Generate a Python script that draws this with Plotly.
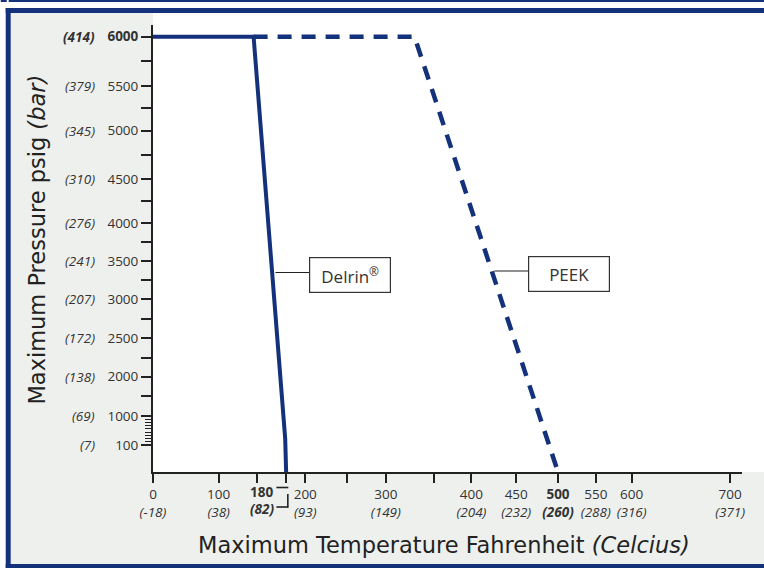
import numpy as np
import plotly.graph_objects as go

# ---------------- data ----------------
DELRIN_F = [0, 145, 179, 180]
DELRIN_PSI = [6000, 6000, 300, 0]
PEEK_F = [145, 330, 500]
PEEK_PSI = [6000, 6000, 0]

X_TICK_F = [0, 100, 200, 300, 400, 450, 500, 550, 600, 700]
X_TICK_F_TEXT = ["0", "100", "200", "300", "400", "450", "<b>500</b>", "550", "600", "700"]
X_TICK_C_TEXT = ["(-18)", "(38)", "(93)", "(149)", "(204)", "(232)", "<b>(260)</b>", "(288)", "(316)", "(371)"]
X_UNLABELED_F = [150, 180, 250, 350]
X_MARK_F_TEXT = "<b>180</b>"
X_MARK_C_TEXT = "<b><i>(82)</i></b>"

Y_TICK_PSI = [100, 1000, 2000, 2500, 3000, 3500, 4000, 4500, 5000, 5500, 6000]
Y_TICK_PSI_TEXT = ["100", "1000", "2000", "2500", "3000", "3500", "4000", "4500", "5000", "5500", "<b>6000</b>"]
Y_TICK_BAR_TEXT = ["(7)", "(69)", "(138)", "(172)", "(207)", "(241)", "(276)", "(310)", "(345)", "(379)", "<b>(414)</b>"]
Y_HALF_PSI = [1500, 2250, 2750, 3250, 3750, 4250, 4750, 5250, 5750]
Y_FINE_PSI = [200, 300, 400, 500, 600, 700, 800, 900]

# ---------------- the chart's (non-linear) scales ----------------
SCALE_X_F = [0, 100, 150, 200, 250, 300, 350, 400, 450, 500, 550, 600, 700]
SCALE_X_POS = [0, 66, 105, 153, 195, 234, 282, 320, 365, 407, 445, 481, 580]
SCALE_Y_PSI = [0, 100, 1000, 2000, 2500, 3000, 3500, 4000, 4500, 5000, 5500, 6000]
SCALE_Y_POS = [0, 27, 56, 95.3, 133.7, 172.7, 211, 248.7, 293, 341.3, 386, 435.3]


def fx(v):
    return np.interp(v, SCALE_X_F, SCALE_X_POS).tolist()


def fy(v):
    return np.interp(v, SCALE_Y_PSI, SCALE_Y_POS).tolist()


NAVY = "#14317b"
TXT = "#333333"
TICKFONT = "Open Sans"
W, H = 764, 568
ML, MT, MB = 153, 13, 96
PW, PH = W - ML, H - MT - MB


def PX(x):
    return (x - ML) / PW


def PY(y):
    return (H - MB - y) / PH


fig = go.Figure()
fig.add_trace(go.Scatter(x=fx(DELRIN_F), y=fy(DELRIN_PSI), mode="lines",
                         line=dict(color=NAVY, width=4), hoverinfo="skip"))
fig.add_trace(go.Scatter(x=fx(PEEK_F), y=fy(PEEK_PSI), mode="lines",
                         line=dict(color=NAVY, width=4.5, dash="14px,10px"), hoverinfo="skip"))
# carrier for the fine-tick overlay axis
fig.add_trace(go.Scatter(x=[None], y=[None], yaxis="y2", mode="lines", hoverinfo="skip"))

xt = [f + "<br><i>" + c + "</i>" for f, c in zip(X_TICK_F_TEXT, X_TICK_C_TEXT)]

fig.update_layout(
    xaxis=dict(range=[0, 592], domain=[0, 592 / PW], tickmode="array",
               tickvals=fx(X_TICK_F), ticktext=xt, ticks="outside", ticklen=9,
               tickwidth=2, tickcolor="#222", showline=True, linewidth=2, linecolor="#222",
               showgrid=False, zeroline=False, fixedrange=True,
               minor=dict(tickmode="array", tickvals=fx(X_UNLABELED_F), ticks="outside",
                          ticklen=9, tickwidth=2, tickcolor="#222", showgrid=False),
               tickfont=dict(family=TICKFONT, size=13.5, color=TXT)),
    yaxis=dict(range=[0, 447], domain=[0, 447 / PH], tickmode="array",
               tickvals=fy(Y_TICK_PSI), ticktext=Y_TICK_PSI_TEXT,
               ticks="outside", ticklen=10, tickwidth=2, tickcolor="#222",
               showline=True, linewidth=2, linecolor="#222", showgrid=False,
               zeroline=False, fixedrange=True,
               minor=dict(tickmode="array", tickvals=fy(Y_HALF_PSI), ticks="outside",
                          ticklen=10, tickwidth=2, tickcolor="#222", showgrid=False),
               tickfont=dict(family=TICKFONT, size=13.5, color=TXT)),
    yaxis2=dict(range=[0, 447], domain=[0, 447 / PH], overlaying="y", anchor="x", side="left",
                tickmode="array", tickvals=fy(Y_FINE_PSI), ticks="outside", ticklen=7,
                tickwidth=1.2, tickcolor="#222", showticklabels=False, showline=False,
                showgrid=False, zeroline=False, fixedrange=True),
)

shapes = []


def rect(x0, y0, x1, y1, color, layer="above"):
    shapes.append(dict(type="rect", xref="paper", yref="paper", x0=PX(x0), x1=PX(x1),
                       y0=PY(y1), y1=PY(y0), fillcolor=color, line=dict(width=0), layer=layer))


def seg(x0, y0, x1, y1, width=1.3, color="#222"):
    shapes.append(dict(type="line", xref="paper", yref="paper", x0=PX(x0), x1=PX(x1),
                       y0=PY(y0), y1=PY(y1), line=dict(color=color, width=width)))


# backgrounds
rect(10, 13, 780, 564, "#eef0ee", layer="below")
rect(153, 13, 780, 472, "#ffffff", layer="below")
# frame
rect(0, 0, 6, 2, NAVY)
rect(8, 0, 780, 2, NAVY)
rect(5, 8, 780, 13, NAVY)
rect(5, 8, 10, 568, NAVY)
rect(5, 564, 780, 568, NAVY)
# 180 bracket
seg(277, 487.5, 289, 487.5, 1.6)
seg(288.5, 494, 288.5, 507.5, 1.6)
seg(277, 507, 289, 507, 1.6)
# connectors to labels
seg(276, 272.5, 310, 272.5, 1.2)
seg(496, 271, 531, 271, 1.2)

ann = []
for psi, t in zip(Y_TICK_PSI, Y_TICK_BAR_TEXT):
    ann.append(dict(xref="paper", yref="y", x=PX(97), y=fy(psi), xanchor="right", yanchor="middle",
                    text="<i>" + t + "</i>", showarrow=False,
                    font=dict(family=TICKFONT, size=13.5, color=TXT)))
ann.append(dict(xref="paper", yref="paper", x=PX(276), y=PY(492), xanchor="right", yanchor="middle",
                text=X_MARK_F_TEXT, showarrow=False, font=dict(family=TICKFONT, size=13.5, color=TXT)))
ann.append(dict(xref="paper", yref="paper", x=PX(277), y=PY(509.5), xanchor="right", yanchor="middle",
                text=X_MARK_C_TEXT, showarrow=False, font=dict(family=TICKFONT, size=13.5, color=TXT)))
# series labels
for cx, cy, t in [(351, 275, "Delrin<sup>®</sup>"), (571.5, 274, "PEEK")]:
    ann.append(dict(xref="paper", yref="paper", x=PX(cx), y=PY(cy), xanchor="center", yanchor="middle",
                    text=t, showarrow=False, width=80, height=34, borderpad=0, bgcolor="white",
                    bordercolor="#333", borderwidth=1.2,
                    font=dict(family=TICKFONT, size=17, color=TXT)))
# axis titles
ann.append(dict(xref="paper", yref="paper", x=PX(445), y=PY(545), xanchor="center", yanchor="middle",
                text="Maximum Temperature Fahrenheit <i>(Celcius)</i>", showarrow=False,
                font=dict(family="DejaVu Sans", size=22.5, color="#222")))
ann.append(dict(xref="paper", yref="paper", x=PX(36), y=PY(240), xanchor="center", yanchor="middle",
                text="Maximum Pressure psig <i>(bar)</i>", showarrow=False, textangle=-90,
                font=dict(family="DejaVu Sans", size=22.5, color="#222")))

fig.update_layout(width=W, height=H, margin=dict(l=ML, r=0, t=MT, b=MB, pad=0),
                  paper_bgcolor="white", plot_bgcolor="rgba(0,0,0,0)", showlegend=False,
                  shapes=shapes, annotations=ann)
fig.write_html("out.html", config={"displayModeBar": False},
               post_script="document.body.style.margin='0';document.body.style.padding='0';"
                           "document.body.style.overflow='hidden';"
                           "document.documentElement.style.overflow='hidden';")
